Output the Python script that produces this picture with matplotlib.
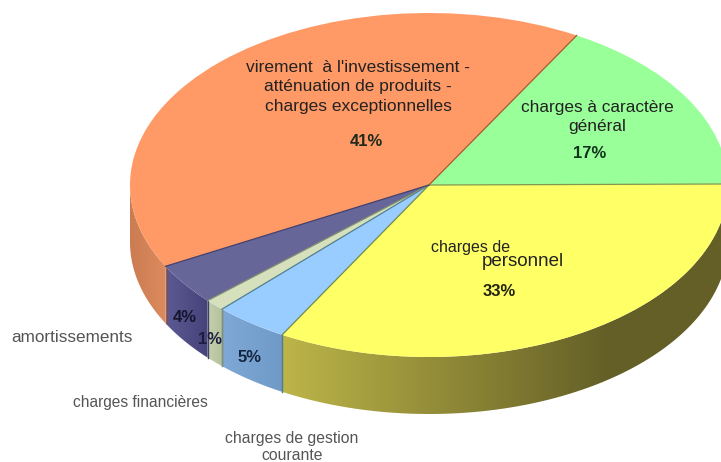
import numpy as np
import matplotlib
matplotlib.use('Agg')
import matplotlib.pyplot as plt
from matplotlib.colors import LinearSegmentedColormap
from matplotlib.patches import Polygon

plt.rcParams['font.family'] = ['Liberation Sans', 'DejaVu Sans']

# slices clockwise, starting from the orange/green boundary
names = ['charges à caractère\ngénéral', 'charges de\npersonnel', 'charges de gestion\ncourante',
         'charges financières', 'amortissements',
         "virement  à l'investissement -\natténuation de produits -\ncharges exceptionnelles"]
values = [16.7, 33.3, 4.0, 1.1, 3.9, 41.1]
labels = ['17%', '33%', '5%', '1%', '4%', '41%']
top_colors = ['#99ff99', '#ffff66', '#99ccff', '#d6e0bd', '#666699', '#ff9966']
edge_colors = ['#7f9a50', '#6f8a50', '#4f7f90', '#7f8f70', '#3f3f70', '#a85a30']
# left and right shade of the side wall
side_left = ['#99ff99', '#bdb548', '#7fa8d6', '#c5d0ac', '#5c5a92', '#cc7c52']
side_right = ['#99ff99', '#645f27', '#6f9ac8', '#b4c09c', '#45427a', '#dc8a5e']

W, H = 721, 462
cx, cy, rx, ry, depth = 429, 185, 299, 172, 57
start = 60.4

fig = plt.figure(figsize=(W / 100, H / 100), dpi=100)
ax = fig.add_axes([0, 0, 1, 1])
xlim = (-cx / rx, (W - cx) / rx)
ylim = ((cy - H) / ry, cy / ry)
d = depth / ry

wedges, _ = ax.pie(values, startangle=start, counterclock=False, colors=top_colors, radius=1,
                   wedgeprops=dict(linewidth=0, zorder=5), normalize=True)

# side walls, only the front half of the rim shows
cum = start - np.cumsum([0] + values) / sum(values) * 360
for i in range(len(values)):
    # radial line between this slice and the next one
    ang = np.radians(cum[i + 1])
    ax.plot([0, np.cos(ang)], [0, np.sin(ang)], color=edge_colors[i], lw=0.9, zorder=6)

    a1, a0 = cum[i], cum[i + 1]
    a0_vis, a1_vis = max(a0, -180), min(a1, 0)
    if a1_vis <= a0_vis:
        continue
    t = np.radians(np.linspace(a0_vis, a1_vis, 80))
    x, y = np.cos(t), np.sin(t)
    pts = np.vstack([np.c_[x, y], np.c_[x[::-1], y[::-1] - d]])
    poly = Polygon(pts, closed=True, facecolor='none', edgecolor='none', zorder=2)
    ax.add_patch(poly)
    cmap = LinearSegmentedColormap.from_list('s%d' % i, [side_left[i], side_right[i]])
    stop = min(x.max(), 0.6) if i == 1 else x.max()
    grad = np.clip((np.linspace(x.min(), x.max(), 256) - x.min()) / (stop - x.min()), 0, 1)
    im = ax.imshow(grad[None, :], cmap=cmap, vmin=0, vmax=1, aspect='auto', zorder=2,
                   extent=(x.min(), x.max(), y.min() - d, y.max()))
    im.set_clip_path(poly)
    for tt in (a0_vis, a1_vis):
        if tt > -180 and tt < 0:
            xe, ye = np.cos(np.radians(tt)), np.sin(np.radians(tt))
            ax.plot([xe, xe], [ye, ye - d], color=edge_colors[i], lw=0.9, zorder=3)

ax.set_aspect('auto')
ax.set_xlim(*xlim)
ax.set_ylim(*ylim)
ax.axis('off')


def put(px, py, s, **kw):
    fig.text(px / W, 1 - py / H, s, ha='center', va='center', **kw)


# text on the slices
put(358, 87, names[5], fontsize=12.5, color='#222222', linespacing=1.4)
put(366, 141, labels[5], fontsize=12, fontweight='bold', color='#1c2a1c')
put(597, 117, names[0], fontsize=12.4, color='#222222', linespacing=1.4)
put(590, 154, labels[0], fontsize=12, fontweight='bold', color='#12331c')
fig.text(431 / W, 1 - 247 / H, names[1].split('\n')[0], fontsize=11.5, color='#222222', va='center')
fig.text(482 / W, 1 - 262 / H, names[1].split('\n')[1], fontsize=13.5, color='#222222', va='center')
put(499, 291, labels[1], fontsize=12, fontweight='bold', color='#222211')
put(250, 357, labels[2], fontsize=12, fontweight='bold', color='#12243f')
put(210, 340, labels[3], fontsize=12, fontweight='bold', color='#1c1c40')
put(185, 318, labels[4], fontsize=12, fontweight='bold', color='#15152f')

# text outside the pie
put(72, 338, names[4], fontsize=12.3, color='#555555')
put(140, 402, names[3], fontsize=11.2, color='#555555')
put(292, 447, names[2], fontsize=11.3, color='#555555', linespacing=1.25)

fig.savefig('out.png', dpi=100)
